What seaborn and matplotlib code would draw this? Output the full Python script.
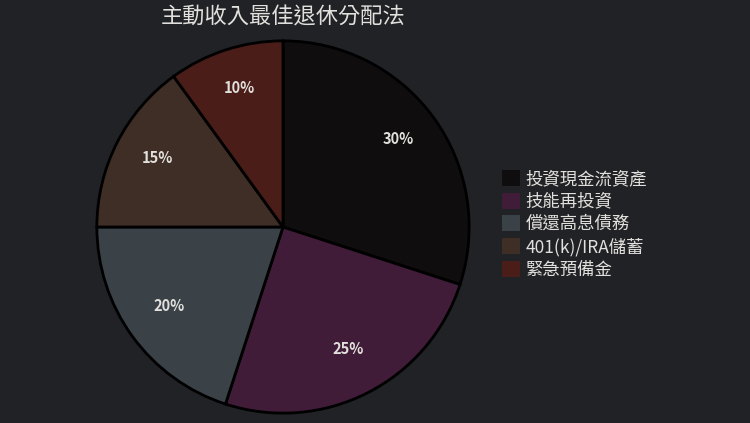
import matplotlib
matplotlib.use("Agg")
import matplotlib.pyplot as plt
import matplotlib.patches as mpatches
import matplotlib.transforms as mtransforms
import seaborn as sns

title = "主動收入最佳退休分配法"
categories = ["投資現金流資產", "技能再投資", "償還高息債務", "401(k)/IRA儲蓄", "緊急預備金"]
values = [30, 25, 20, 15, 10]
colors = ["#100d0e", "#401c38", "#3a4248", "#3f2e25", "#4a1d18"]

sns.set_theme(style="dark")
plt.rcParams['font.family'] = ['Noto Sans CJK TC', 'DejaVu Sans']
bg = "#212226"
txt = "#e2e0dc"
palette = sns.color_palette(colors)

fig = plt.figure(figsize=(7.5, 4.23), dpi=100, facecolor=bg)
W, H = 750, 423
cx, cy, r = 283, 227, 188
ax = fig.add_axes([(cx - r) / W, (H - cy - r) / H, 2 * r / W, 2 * r / H])
ax.set_facecolor(bg)

wedges, texts, autotexts = ax.pie(
    values, colors=palette, startangle=90, counterclock=False,
    autopct=lambda p: f"{p:.0f}%", pctdistance=0.76,
    wedgeprops=dict(edgecolor="black", linewidth=2),
    textprops=dict(color=txt, fontsize=10.5, fontweight="bold"),
)
for t in autotexts:
    t.set_transform(mtransforms.offset_copy(t.get_transform(), fig=fig, x=0.5, y=4.5, units="dots"))
ax.set_xlim(-1.01, 1.01)
ax.set_ylim(-1.01, 1.01)
ax.set_aspect("equal")
ax.axis("off")

fig.text(cx / W, 1 - 17.5 / H, title, ha="center", va="center", color=txt, fontsize=16, fontweight="medium")

handles = [mpatches.Patch(facecolor=c, edgecolor="none") for c in palette]
leg = fig.legend(handles, categories, loc="upper left", bbox_to_anchor=(502 / W, 1 - 170 / H),
                 frameon=False, fontsize=12.5, labelcolor=txt, handlelength=1.05, handleheight=1.05,
                 handletextpad=0.3, labelspacing=0.26, borderpad=0, borderaxespad=0)
for t in leg.get_texts():
    t.set_fontweight("medium")
fig.savefig("out.png", dpi=100, facecolor=bg)
